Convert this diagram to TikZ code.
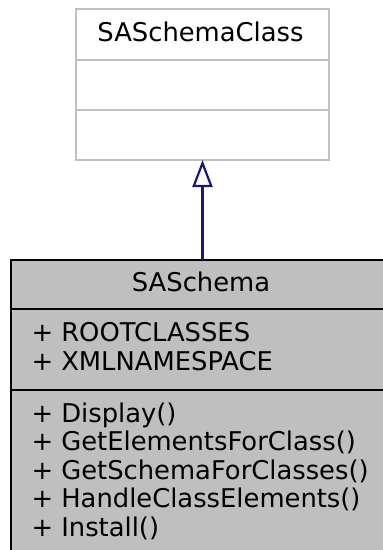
\documentclass[tikz,border=0pt]{standalone}
\usepackage{fontspec}
\setmainfont{DejaVu Sans}
\usetikzlibrary{arrows.meta}
\definecolor{midnight}{HTML}{191970}
\definecolor{boxgray}{HTML}{BFBFBF}
\tikzset{
  sec/.style={rectangle, inner sep=0pt, outer sep=0pt, line width=2.2pt, anchor=north west},
  topsec/.style={sec, draw=boxgray, fill=white},
  botsec/.style={sec, draw=black, fill=boxgray},
  txt/.style={inner sep=0pt, outer sep=0pt, font=\fontsize{25.8}{28.5}\selectfont, text=black},
  inherit/.style={draw=midnight, line width=2.2pt, -{Triangle[open, length=27pt, width=20pt]}}
}
\begin{document}
\begin{tikzpicture}[x=1pt, y=-1pt]
\useasboundingbox (0,0) rectangle (383,550);
\clip (0,0) rectangle (383,550);
% base class
\node[topsec, minimum width=253pt, minimum height=51pt] (c1) at (76,9) {};
\node[topsec, minimum width=253pt, minimum height=50pt] (c2) at (76,60) {};
\node[topsec, minimum width=253pt, minimum height=50pt] (c3) at (76,110) {};
\node[txt, anchor=base] (ctitle) at (200.5,41) {SASchemaClass};
% derived class
\node[botsec, minimum width=382pt, minimum height=49pt] (s1) at (11,260) {};
\node[botsec, minimum width=382pt, minimum height=81pt] (s2) at (11,309) {};
\node[botsec, minimum width=382pt, minimum height=180pt] (s3) at (11,390) {};
\node[txt, anchor=base] (stitle) at (201,291) {SASchema};
\node[txt, anchor=base west] (a1) at (31.5,341) {+ ROOTCLASSES};
\node[txt, anchor=base west] (a2) at (31.5,370) {+ XMLNAMESPACE};
\node[txt, anchor=base west] (m1) at (31.5,422) {+ Display()};
\node[txt, anchor=base west] (m2) at (31.5,450.5) {+ GetElementsForClass()};
\node[txt, anchor=base west] (m3) at (31.5,479) {+ GetSchemaForClasses()};
\node[txt, anchor=base west] (m4) at (31.5,507.5) {+ HandleClassElements()};
\node[txt, anchor=base west] (m5) at (31.5,536) {+ Install()};
% inheritance
\draw[inherit] (s1.north -| c3.south) -- (c3.south);
\end{tikzpicture}
\end{document}
